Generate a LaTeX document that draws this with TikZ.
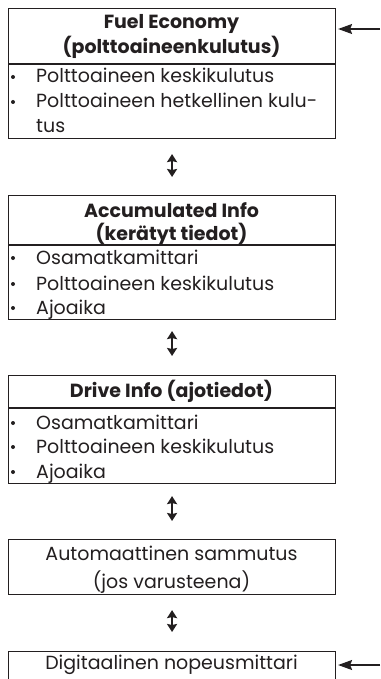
\documentclass[tikz,border=0pt]{standalone}
\usepackage{fontspec}
\setmainfont{Poppins}
\usetikzlibrary{arrows.meta}
\definecolor{ink}{HTML}{231F20}
\tikzset{
  box/.style={draw=ink, line width=1.1pt, minimum width=327pt, anchor=north west, inner sep=0pt},
  divider/.style={draw=ink, line width=1.6pt},
  head/.style={font=\fontsize{19}{23}\selectfont\bfseries, text=ink, anchor=base, inner sep=0pt},
  item/.style={font=\fontsize{19}{23}\selectfont, text=ink, anchor=base west, inner sep=0pt},
  plain/.style={font=\fontsize{19}{23}\selectfont, text=ink, anchor=base, inner sep=0pt},
  bul/.style={fill=ink, circle, minimum size=4pt, inner sep=0pt},
  dbl/.style={draw=ink, line width=1.8pt, {Stealth[length=8pt,width=10pt,inset=1pt]}-{Stealth[length=8pt,width=10pt,inset=1pt]}},
  inarrow/.style={draw=ink, line width=1.4pt, -{Stealth[length=14pt,width=10pt,inset=2pt]}}
}
\begin{document}
\begin{tikzpicture}[x=1pt,y=-1pt]
\useasboundingbox (0,0) rectangle (380,679);
\clip (0,0) rectangle (380,679);
\fill[white] (0,0) rectangle (380,679);
% boxes
\node[box, minimum height=130pt] (b1) at (8,8) {};
\node[box, minimum height=124pt] (b2) at (8,195) {};
\node[box, minimum height=108pt] (b3) at (8,375) {};
\node[box, minimum height=55pt] (b4) at (8,539) {};
\node[box, minimum height=60pt] (b5) at (8,651) {};
% dividers
\coordinate (d1) at (8,64);
\coordinate (d2) at (8,245);
\coordinate (d3) at (8,408);
\draw[divider] (d1) -- (d1 -| b1.east);
\draw[divider] (d2) -- (d2 -| b2.east);
\draw[divider] (d3) -- (d3 -| b3.east);
% box 1
\node[head] (h1a) at (171.5,29) {Fuel Economy};
\node[head] (h1b) at (171.5,54) {(polttoaineenkulutus)};
\node[bul] (u1a) at (13,77) {};
\node[item] (t1a) at (36,83) {Polttoaineen keskikulutus};
\node[bul] (u1b) at (13,102) {};
\node[item] (t1b) at (36,108) {Polttoaineen hetkellinen kulu-};
\node[item] (t1c) at (36,133) {tus};
% box 2
\node[head] (h2a) at (171.5,217) {Accumulated Info};
\node[head] (h2b) at (171.5,240) {(kerätyt tiedot)};
\node[bul] (u2a) at (13,258) {};
\node[item] (t2a) at (36,264) {Osamatkamittari};
\node[bul] (u2b) at (13,284) {};
\node[item] (t2b) at (36,290) {Polttoaineen keskikulutus};
\node[bul] (u2c) at (13,308) {};
\node[item] (t2c) at (36,314) {Ajoaika};
% box 3
\node[head] (h3a) at (171.5,397) {Drive Info (ajotiedot)};
\node[bul] (u3a) at (13,423) {};
\node[item] (t3a) at (36,429) {Osamatkamittari};
\node[bul] (u3b) at (13,447) {};
\node[item] (t3b) at (36,453) {Polttoaineen keskikulutus};
\node[bul] (u3c) at (13,472) {};
\node[item] (t3c) at (36,478) {Ajoaika};
% box 4
\node[plain] (t4a) at (171.5,560) {Automaattinen sammutus};
\node[plain] (t4b) at (171.5,588) {(jos varusteena)};
% box 5
\node[plain] (t5a) at (171.5,669) {Digitaalinen nopeusmittari};
% double arrows
\draw[dbl, shorten <=15pt, shorten >=18pt] (b1.south) -- (b2.north);
\draw[dbl, shorten <=11pt, shorten >=19pt] (b2.south) -- (b3.north);
\draw[dbl, shorten <=12pt, shorten >=18pt] (b3.south) -- (b4.north);
\draw[dbl, shorten <=15pt, shorten >=19pt] (b4.south) -- (b5.north);
% incoming arrows
\coordinate (in1) at (380,29);
\coordinate (in5) at (380,665);
\draw[inarrow, shorten >=2pt] (in1) -- (in1 -| b1.east);
\draw[inarrow, shorten >=2pt] (in5) -- (in5 -| b5.east);
\end{tikzpicture}
\end{document}
